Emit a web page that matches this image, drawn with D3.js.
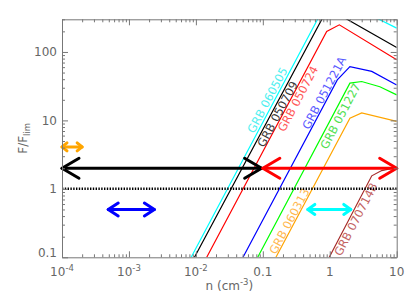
<!DOCTYPE html>
<html>
<head>
<meta charset="utf-8">
<script src="https://cdn.jsdelivr.net/npm/d3@7"></script>
<style>
  body { margin: 0; background: #fff; }
  svg text { font-family: "DejaVu Sans", sans-serif; }
</style>
</head>
<body>
<div id="chart"></div>
<script>
// F/F_lim against density n for each burst
const grbNames = ["GRB 060505", "GRB 050709", "GRB 050724", "GRB 051221A", "GRB 051227", "GRB 060313", "GRB 070714B"];

const nGRB060505 = [0.0085, 0.94, 1.42, 2.83, 10];
const fGRB060505 = [0.1, 580, 684, 413, 223];
const nGRB050709 = [0.00953, 0.835, 1.118, 10];
const fGRB050709 = [0.1, 355, 393, 116];
const nGRB050724 = [0.01452, 0.90, 1.39, 10];
const fGRB050724 = [0.1, 199, 249, 77];
const nGRB051221A = [0.0506, 1.296, 2.0, 4.24, 10];
const fGRB051221A = [0.1, 39, 61, 52, 33];
const nGRB051227 = [0.0839, 2.0, 3.0, 5.6, 10];
const fGRB051227 = [0.1, 35, 37, 31, 23.6];
const nGRB060313 = [0.157, 2.0, 3.0, 10];
const fGRB060313 = [0.1, 10.8, 12.9, 9.7];
const nGRB070714B = [0.984, 4.24, 5.97, 10];
const fGRB070714B = [0.1, 1.55, 1.85, 2.06];

// density ranges (double arrows)
const arrowFrom = [1e-4, 1e-4, 0.1, 4.9e-4, 0.47];
const arrowTo = [2e-4, 0.096, 10, 2.4e-3, 2.06];
const arrowLevel = [4.1, 2, 2, 0.5, 0.5];

const xTickVals = [1e-4, 1e-3, 1e-2, 0.1, 1, 10];
const xTickBase = ["10", "10", "10", "0.1", "1", "10"];
const xTickExp = ["-4", "-3", "-2", "", "", ""];
const yTickVals = [0.1, 1, 10, 100];
const yTickText = ["0.1", "1", "10", "100"];

// styling / layout
const curves = [
  [nGRB060505, fGRB060505], [nGRB050709, fGRB050709], [nGRB050724, fGRB050724],
  [nGRB051221A, fGRB051221A], [nGRB051227, fGRB051227], [nGRB060313, fGRB060313],
  [nGRB070714B, fGRB070714B]
];
const lineColors = ["#00ffff", "#000000", "#ff0000", "#0000ff", "#00ff00", "#ffa500", "#a52a2a"];
const labelColors = ["#50f0f0", "#3a3a3a", "#ff5a5a", "#5a5aff", "#50e050", "#ffb850", "#c46464"];
const labelN = [0.0738, 0.104, 0.211, 0.488, 0.91, 0.157, 1.466];
const labelF = [6.35, 3.96, 6.63, 7.2, 3.71, 0.108, 0.102];
const arrowColors = ["#ffa500", "#000000", "#ff0000", "#0000ff", "#00ffff"];
const arrowHead = [[5, 4], [17, 10], [17, 10], [10, 6.5], [7, 5]];

const width = 415, height = 297;
const margin = { top: 19.3, right: 18.3, bottom: 39.7, left: 62 };
const axisColor = "#777";
const textColor = "#666";

const svg = d3.select("#chart").append("svg")
  .attr("width", width)
  .attr("height", height);

const x = d3.scaleLog().domain([1e-4, 10]).range([margin.left, width - margin.right]);
const y = d3.scaleLog().domain([0.1, 300]).range([height - margin.bottom, margin.top]);

const isMajor = v => Math.abs(Math.log10(v) - Math.round(Math.log10(v))) < 1e-6;

svg.append("clipPath").attr("id", "plot-clip")
  .append("rect")
  .attr("x", margin.left).attr("y", margin.top)
  .attr("width", width - margin.left - margin.right)
  .attr("height", height - margin.top - margin.bottom);

const plot = svg.append("g").attr("clip-path", "url(#plot-clip)");

// curves
const line = d3.line().x(d => x(d[0])).y(d => y(d[1]));
curves.forEach(function (c, i) {
  const pts = c[0].map((n, k) => [n, c[1][k]]);
  plot.append("path")
    .datum(pts)
    .attr("d", line)
    .attr("fill", "none")
    .attr("stroke", lineColors[i])
    .attr("stroke-width", 1.2);
});

// labels along the rising part of each curve
curves.forEach(function (c, i) {
  const dx = x(c[0][1]) - x(c[0][0]);
  const dy = y(c[1][1]) - y(c[1][0]);
  const ang = Math.atan2(dy, dx) * 180 / Math.PI;
  const lx = x(labelN[i]), ly = y(labelF[i]);
  plot.append("text")
    .attr("transform", `translate(${lx},${ly}) rotate(${ang})`)
    .attr("font-size", "11.5px")
    .attr("fill", labelColors[i])
    .text(grbNames[i]);
});

// F = F_lim
svg.append("line")
  .attr("x1", x(1e-4)).attr("x2", x(10))
  .attr("y1", y(1)).attr("y2", y(1))
  .attr("stroke", "#000")
  .attr("stroke-width", 2.5)
  .attr("stroke-dasharray", "1.4,1.4");

// arrows
arrowFrom.forEach(function (n0, i) {
  const x0 = x(n0), x1 = x(arrowTo[i]), yy = y(arrowLevel[i]);
  const [hl, hw] = arrowHead[i];
  const g = svg.append("g")
    .attr("stroke", arrowColors[i])
    .attr("stroke-width", 3)
    .attr("fill", "none")
    .attr("stroke-linecap", "round")
    .attr("stroke-linejoin", "round");
  g.append("line").attr("x1", x0).attr("x2", x1).attr("y1", yy).attr("y2", yy);
  g.append("polyline").attr("points", [[x0 + hl, yy - hw], [x0, yy], [x0 + hl, yy + hw]].join(" "));
  g.append("polyline").attr("points", [[x1 - hl, yy - hw], [x1, yy], [x1 - hl, yy + hw]].join(" "));
});

// axes: inward ticks on all four sides, long at decades
function drawAxis(axis, transform) {
  const g = svg.append("g")
    .attr("transform", transform)
    .attr("color", axisColor)
    .call(axis.tickSize(-3).tickSizeOuter(0).tickFormat(""));
  g.selectAll(".tick").filter(d => isMajor(d)).select("line").each(function () {
    const l = d3.select(this);
    ["x2", "y2"].forEach(a => { const v = +l.attr(a); if (v) l.attr(a, v * 2); });
  });
  return g;
}
drawAxis(d3.axisBottom(x).tickValues(x.ticks()), `translate(0,${height - margin.bottom})`);
drawAxis(d3.axisTop(x).tickValues(x.ticks()), `translate(0,${margin.top})`);
drawAxis(d3.axisLeft(y).tickValues(y.ticks()), `translate(${margin.left},0)`);
drawAxis(d3.axisRight(y).tickValues(y.ticks()), `translate(${width - margin.right},0)`);

// tick labels
xTickVals.forEach(function (v, i) {
  const t = svg.append("text")
    .attr("x", x(v))
    .attr("y", height - margin.bottom + 18.7)
    .attr("text-anchor", "middle")
    .attr("font-size", "12px")
    .attr("fill", textColor)
    .text(xTickBase[i]);
  if (xTickExp[i]) {
    t.append("tspan").attr("dy", -5).attr("font-size", "8.5px").text(xTickExp[i]);
  }
});
yTickVals.forEach(function (v, i) {
  svg.append("text")
    .attr("x", margin.left - 5)
    .attr("y", Math.min(y(v) + 4.5, height - margin.bottom))
    .attr("text-anchor", "end")
    .attr("font-size", "12px")
    .attr("fill", textColor)
    .text(yTickText[i]);
});

// axis titles
const xt = svg.append("text")
  .attr("x", (margin.left + width - margin.right) / 2)
  .attr("y", 290)
  .attr("text-anchor", "middle")
  .attr("font-size", "12px")
  .attr("fill", textColor)
  .text("n (cm");
xt.append("tspan").attr("dy", -5).attr("font-size", "8.5px").text("-3");
xt.append("tspan").attr("dy", 5).text(")");

const yt = svg.append("text")
  .attr("transform", `translate(27,${(margin.top + height - margin.bottom) / 2}) rotate(-90)`)
  .attr("text-anchor", "middle")
  .attr("font-size", "12px")
  .attr("fill", textColor)
  .text("F/F");
yt.append("tspan").attr("dy", 3).attr("font-size", "8.5px").text("lim");
</script>
</body>
</html>
